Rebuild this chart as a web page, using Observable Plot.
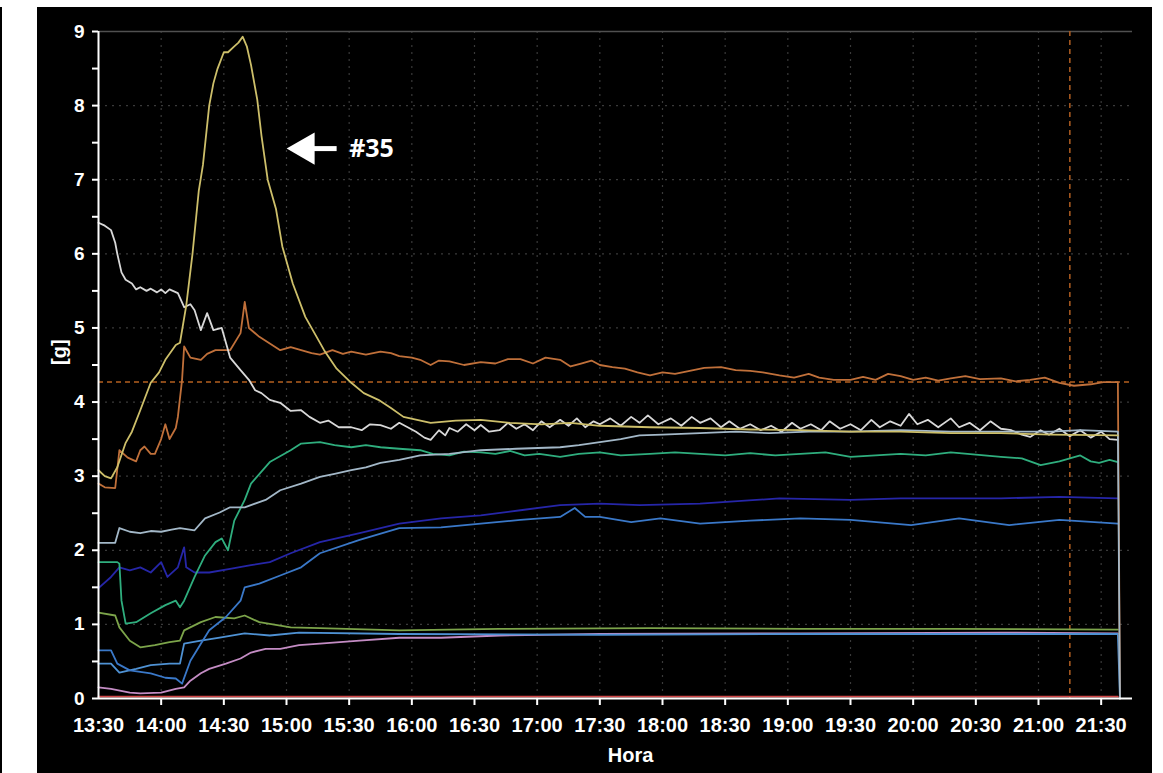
<!DOCTYPE html>
<html>
<head>
<meta charset="utf-8">
<script src="https://cdn.jsdelivr.net/npm/d3@7"></script>
<script src="https://cdn.jsdelivr.net/npm/@observablehq/plot@0.6"></script>
<style>
  html, body { margin: 0; padding: 0; background: #fff; }
  #edge { position: absolute; left: 0; top: 7px; width: 2px; height: 766px; background: #000; }
  #chart { position: absolute; left: 37px; top: 7px; width: 1115px; height: 766px; background: #000; }
</style>
</head>
<body>
<div id="edge"></div>
<div id="chart"></div>
<script>
// ---- Data (x = minutes after 13:30, y = grams) ----
const startHour = 13, startMinute = 30;
const endMinutes = 495; // 21:45 axis end

const s35 = [[0,3.08],[3,3.0],[6,2.97],[9,3.12],[13,3.45],[16,3.6],[20,3.89],[25,4.26],[29,4.4],[32,4.57],[37,4.77],[39,4.8],[42,5.3],[45,6.0],[48,6.85],[50,7.2],[53,8.0],[55,8.3],[57,8.5],[60,8.72],[62,8.72],[65,8.8],[67,8.85],[69,8.93],[71,8.8],[73,8.55],[76,8.08],[78.5,7.6],[81,7.0],[85,6.6],[88.5,6.1],[93,5.6],[99,5.15],[108,4.7],[114,4.45],[121,4.26],[127,4.12],[134,4.03],[140,3.92],[146,3.8],[159,3.72],[171,3.75],[183,3.76],[197,3.72],[212,3.7],[226,3.72],[240,3.68],[264,3.66],[288,3.65],[312,3.63],[336,3.62],[360,3.6],[384,3.6],[408,3.58],[432,3.58],[456,3.56],[488,3.55]];

const sOrange = [[0,2.9],[3,2.85],[8,2.84],[10.5,3.35],[14,3.25],[18,3.2],[20,3.35],[22.5,3.4],[25,3.3],[27,3.3],[30,3.5],[32,3.7],[34.5,3.5],[37,3.65],[38,3.8],[40,4.3],[41,4.75],[44,4.6],[49,4.57],[52,4.65],[56,4.7],[63,4.7],[68,4.93],[70,5.35],[72,5.0],[77.5,4.88],[87,4.7],[92,4.74],[97,4.7],[102,4.66],[106,4.64],[112,4.7],[117,4.65],[121,4.68],[128,4.64],[135,4.68],[140,4.66],[144.5,4.62],[150,4.6],[154,4.57],[159,4.5],[163,4.56],[168.5,4.55],[175,4.5],[183,4.54],[190,4.52],[196,4.58],[202,4.58],[208,4.52],[214,4.6],[221,4.57],[226,4.48],[231,4.52],[236,4.56],[240,4.5],[246,4.47],[252,4.45],[258,4.4],[264,4.36],[270,4.4],[276,4.38],[283,4.42],[290,4.46],[298,4.47],[305,4.43],[312,4.42],[318,4.4],[326,4.36],[333,4.33],[340,4.38],[345.6,4.33],[352,4.3],[360,4.3],[366,4.34],[372,4.3],[378,4.38],[384,4.35],[390,4.3],[396,4.33],[402,4.29],[408,4.32],[415,4.35],[422,4.31],[432,4.32],[439,4.28],[446,4.3],[453,4.33],[460.5,4.26],[467,4.22],[475,4.24],[481,4.27],[488,4.27],[489,0]];

const sWhite = [[0,6.42],[3,6.38],[6,6.32],[8,6.15],[9.5,6.0],[11.5,5.75],[13,5.65],[16,5.6],[18,5.52],[20,5.55],[23,5.5],[25,5.53],[28,5.48],[30,5.52],[32,5.47],[34.5,5.52],[38,5.47],[41,5.28],[44,5.32],[46,5.24],[49,4.97],[52,5.2],[55,4.97],[59,5.0],[63,4.6],[68,4.43],[72,4.3],[75,4.16],[78,4.12],[82,4.03],[87,3.99],[92,3.88],[97,3.89],[101,3.8],[106,3.72],[110,3.75],[115,3.66],[121,3.66],[126,3.62],[130,3.7],[135,3.69],[140,3.64],[144.5,3.72],[148,3.66],[152,3.6],[156,3.52],[159,3.49],[163,3.62],[166,3.55],[168.5,3.65],[172,3.6],[176,3.7],[180,3.62],[183,3.69],[187,3.6],[192,3.62],[196,3.72],[200,3.64],[204,3.7],[208,3.62],[212,3.74],[216,3.66],[221,3.76],[225,3.68],[229,3.78],[233,3.66],[237,3.74],[240,3.7],[245,3.78],[250,3.68],[255,3.8],[259,3.72],[263,3.82],[268,3.7],[274,3.78],[279,3.68],[284,3.8],[288,3.72],[293,3.78],[298,3.66],[302,3.74],[307,3.64],[312,3.7],[317,3.62],[322,3.68],[327,3.6],[332,3.72],[336,3.64],[341,3.7],[346,3.62],[350,3.74],[355,3.64],[360,3.7],[365,3.62],[370,3.76],[374,3.66],[379,3.74],[384,3.68],[388,3.84],[392,3.7],[397,3.76],[402,3.66],[408,3.78],[412,3.66],[417,3.72],[422,3.62],[427,3.74],[432,3.64],[437,3.62],[442,3.56],[446,3.53],[451,3.62],[455,3.56],[460,3.64],[465,3.54],[470,3.62],[475,3.52],[480,3.6],[484,3.5],[488,3.49]];

const sGrayBlue = [[0,2.1],[8,2.1],[10.5,2.3],[15,2.25],[20,2.23],[25,2.26],[30,2.25],[35,2.28],[39,2.3],[46,2.27],[51,2.43],[58,2.51],[63,2.58],[70,2.58],[80,2.68],[87,2.81],[97,2.9],[106,2.99],[113,3.03],[121,3.08],[128,3.12],[135,3.18],[144,3.22],[154,3.28],[168,3.3],[183,3.35],[200,3.37],[221,3.39],[230,3.42],[240,3.46],[250,3.5],[259,3.55],[270,3.56],[288,3.58],[305,3.6],[321.7,3.58],[340,3.6],[360,3.6],[384,3.62],[408,3.6],[432,3.6],[456,3.6],[470,3.62],[488,3.6],[489,0]];

const sTeal = [[0,1.84],[9,1.84],[10.5,1.82],[11.5,1.32],[13,1.01],[18,1.03],[25,1.15],[32,1.26],[37,1.32],[39,1.23],[41.6,1.32],[46,1.64],[51,1.93],[56,2.11],[59,2.16],[62,2.0],[65.6,2.4],[70,2.68],[73,2.9],[82,3.19],[92,3.35],[97,3.44],[106,3.46],[113,3.42],[121,3.39],[128,3.42],[135,3.39],[144,3.37],[154,3.35],[160,3.3],[168.5,3.28],[175,3.33],[183,3.32],[190,3.3],[197,3.34],[204,3.28],[211.6,3.3],[221,3.26],[230,3.3],[240,3.32],[250,3.28],[264,3.3],[276,3.32],[288,3.3],[300,3.28],[312,3.31],[324,3.28],[336,3.3],[348,3.32],[360,3.26],[372,3.28],[384,3.3],[396,3.28],[408,3.32],[420,3.29],[432,3.26],[442,3.24],[451,3.15],[460.5,3.2],[470,3.28],[475,3.2],[479.6,3.18],[484,3.22],[488,3.19]];

const sDarkBlue = [[0,1.49],[6,1.64],[10.5,1.77],[15,1.73],[20,1.77],[25,1.7],[30,1.84],[33.5,1.64],[38,1.77],[41,2.04],[42.6,1.77],[46,1.7],[53.6,1.7],[63,1.75],[73,1.8],[82,1.84],[92,1.96],[106,2.11],[125,2.23],[144.5,2.36],[164,2.43],[183,2.47],[202,2.54],[221,2.61],[240,2.63],[259,2.61],[288,2.63],[326,2.7],[360,2.68],[384,2.7],[432,2.7],[460.5,2.72],[488,2.7]];

const sMidBlue = [[0,0.65],[6,0.65],[9.5,0.47],[15,0.38],[25,0.34],[32,0.28],[37,0.27],[40,0.2],[44,0.51],[49,0.74],[53.6,0.92],[61,1.1],[68,1.32],[70,1.5],[77.5,1.55],[87,1.66],[97,1.77],[106,1.96],[125,2.14],[144.5,2.3],[164,2.31],[183,2.36],[202,2.41],[221,2.45],[228,2.57],[233,2.45],[240,2.45],[255,2.38],[269,2.43],[288,2.36],[312,2.4],[336,2.43],[360,2.41],[389,2.34],[412.6,2.43],[436.6,2.34],[460.5,2.41],[488,2.36]];

const sOlive = [[0,1.16],[8,1.12],[10.5,0.96],[15,0.78],[20,0.69],[27,0.72],[34.5,0.76],[39,0.78],[41.6,0.92],[49,1.03],[56,1.1],[65.6,1.08],[70,1.12],[77.5,1.03],[92,0.96],[106,0.95],[144.5,0.92],[192,0.94],[264,0.95],[336,0.94],[408,0.94],[488,0.93]];

const sLightBlue = [[0,0.47],[6,0.47],[10.5,0.35],[18,0.4],[25,0.45],[34.5,0.47],[39,0.47],[41.6,0.74],[49,0.78],[58,0.82],[70,0.88],[82,0.85],[96,0.89],[144.5,0.87],[240,0.86],[336,0.87],[432,0.87],[488,0.87],[489,0]];

const sPink = [[0,0.15],[6,0.13],[15,0.08],[20,0.07],[30,0.08],[37,0.13],[41.6,0.15],[44,0.24],[49,0.34],[53.6,0.4],[61,0.47],[68,0.54],[73,0.62],[80,0.67],[87,0.67],[96,0.72],[106,0.74],[125,0.78],[144.5,0.82],[164,0.82],[192,0.85],[240,0.87],[336,0.88],[432,0.89],[488,0.88]];

const sRed = [[0,0.025],[120,0.025],[240,0.025],[360,0.025],[488,0.025]];

// drawing order (back to front) and colours
const seriesList = [sRed, sPink, sLightBlue, sOlive, sMidBlue, sDarkBlue, sOrange, sTeal, sWhite, sGrayBlue, s35];
const seriesColors = ["#d04848", "#c48cc4", "#4f92d4", "#7ca44a", "#3a78c8", "#2626a8", "#c0703a", "#2fae7e", "#d8d8d8", "#a3b8c8", "#cdbf6a"];

const refValue = 4.27;          // dashed horizontal reference
const refTimeMinutes = 465;     // dashed vertical reference (21:15)

const yTicks = [0,1,2,3,4,5,6,7,8,9];
const yMinorTicks = [0.5,1.5,2.5,3.5,4.5,5.5,6.5,7.5,8.5];
const xLabelMinutes = [0,30,60,90,120,150,180,210,240,270,300,330,360,390,420,450,480];
const xTickMinutes = [30,60,90,120,150,180,210,240,270,300,330,360,390,420,450,480];

const annotationText = "#35";
const annotationY = 7.42;
const arrowTipMinutes = 99;     // triangle centroid
const arrowTailMinutes = 114.5;
const arrowShaftStart = 100;
const annotationTextMinutes = 120;

const yLabel = "[g]";
const xLabel = "Hora";

// ---- helpers ----
const t = m => new Date(Date.UTC(2020, 0, 1, startHour, startMinute + m));
const fmt = d3.utcFormat("%H:%M");

const lineMarks = seriesList.map((s, i) =>
  Plot.line(s, {x: d => t(d[0]), y: d => d[1], stroke: seriesColors[i], strokeWidth: 1.8, curve: "linear"})
);

const chart = Plot.plot({
  width: 1115,
  height: 766,
  marginLeft: 61,
  marginRight: 20,
  marginTop: 24,
  marginBottom: 75,
  style: {background: "#000", color: "#fff", fontFamily: "'Liberation Sans', Arial, sans-serif", overflow: "visible"},
  x: {type: "utc", domain: [t(0), t(endMinutes)]},
  y: {domain: [0, 9]},
  marks: [
    // grid
    Plot.ruleX(xTickMinutes.map(t), {stroke: "#3a3a3a", strokeDasharray: "2,5", strokeWidth: 1.2}),
    Plot.ruleY(yTicks.filter(v => v > 0 && v < 9), {stroke: "#3a3a3a", strokeDasharray: "2,5", strokeWidth: 1.2}),
    Plot.ruleY([9], {stroke: "#505050", strokeWidth: 1.5}),
    // reference lines
    Plot.ruleY([refValue], {stroke: "#b5601f", strokeDasharray: "5,4", strokeWidth: 1.6}),
    Plot.ruleX([t(refTimeMinutes)], {stroke: "#a5581f", strokeDasharray: "5,4", strokeWidth: 1.6}),
    // series
    ...lineMarks,
    // axes
    Plot.ruleX([t(0)], {stroke: "#fff", strokeWidth: 2}),
    Plot.ruleY([0], {stroke: "#fff", strokeWidth: 2}),
    Plot.axisY({ticks: yTicks, tickSize: 6, tickPadding: 8, strokeWidth: 2, fontSize: 19, fontWeight: "bold", label: null}),
    Plot.axisY({ticks: yMinorTicks, tickSize: 6, strokeWidth: 2, tickFormat: () => "", label: null}),
    Plot.axisX({ticks: xTickMinutes.map(t), tickSize: 7, strokeWidth: 2, tickFormat: () => "", label: null}),
    Plot.axisX({ticks: xLabelMinutes.map(t), tickSize: 0, tickPadding: 19, tickFormat: fmt, fontSize: 20, fontWeight: "bold", label: null}),
    // axis titles
    Plot.text([yLabel], {text: d => d, frameAnchor: "left", rotate: -90, dx: -39, fontSize: 20, fontWeight: "bold", fill: "#fff"}),
    Plot.text([xLabel], {text: d => d, frameAnchor: "bottom", dx: 15, dy: 63, fontSize: 20, fontWeight: "bold", fill: "#fff"}),
    // annotation
    Plot.link([0], {x1: () => t(arrowShaftStart), x2: () => t(arrowTailMinutes), y1: annotationY, y2: annotationY, stroke: "#fff", strokeWidth: 5}),
    Plot.dot([0], {x: () => t(arrowTipMinutes), y: annotationY, symbol: "triangle", rotate: -90, r: 12, fill: "#fff", stroke: "none"}),
    Plot.text([annotationText], {text: d => d, x: () => t(annotationTextMinutes), y: annotationY, textAnchor: "start", fontSize: 25, fontWeight: "bold", fontFamily: "'Open Sans', sans-serif", fill: "#fff"})
  ]
});

document.getElementById("chart").appendChild(chart);
</script>
</body>
</html>
